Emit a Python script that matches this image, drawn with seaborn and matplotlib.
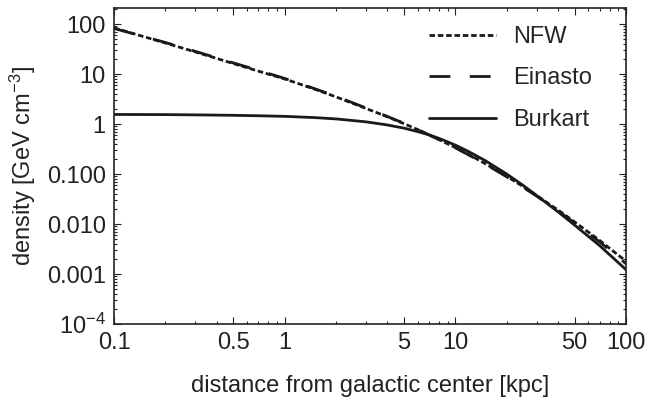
import numpy as np
import pandas as pd
import matplotlib
matplotlib.use("Agg")
import matplotlib.pyplot as plt
import matplotlib.ticker as mticker
import seaborn as sns

# distance from galactic center [kpc]
radius = [0.1, 0.2, 0.3, 0.5, 0.7, 1, 1.5, 2, 3, 4, 5, 6, 7, 8, 10, 12, 15,
          20, 25, 30, 40, 50, 70, 100]
nfw = [84, 42, 27.8, 16.3, 11.5, 8.0, 5.0, 3.5, 2.05, 1.40, 1.02, 0.78, 0.61,
       0.49, 0.339, 0.245, 0.161, 0.090, 0.056, 0.037, 0.019, 0.011, 0.0047,
       0.0018]
einasto = [82, 43, 28.5, 16.8, 11.9, 8.2, 5.1, 3.6, 2.1, 1.42, 1.04, 0.78,
           0.61, 0.49, 0.335, 0.24, 0.158, 0.088, 0.054, 0.036, 0.0182,
           0.0105, 0.0044, 0.0016]
burkart = [1.56, 1.55, 1.53, 1.50, 1.47, 1.43, 1.35, 1.27, 1.11, 0.96, 0.83,
           0.71, 0.61, 0.52, 0.38, 0.28, 0.185, 0.10, 0.059, 0.037, 0.0175,
           0.0095, 0.0037, 0.00122]

ytick_vals = [1e-4, 1e-3, 1e-2, 1e-1, 1, 10, 100]
ytick_labels = ["$10^{-4}$", "0.001", "0.010", "0.100", "1", "10", "100"]
xtick_vals = [0.1, 0.5, 1, 5, 10, 50, 100]
xtick_labels = ["0.1", "0.5", "1", "5", "10", "50", "100"]

sns.set_style("ticks")
plt.rcParams["font.family"] = ["Liberation Sans", "DejaVu Sans"]
plt.rcParams["mathtext.fontset"] = "custom"
plt.rcParams["mathtext.rm"] = "Liberation Sans"
plt.rcParams["mathtext.it"] = "Liberation Sans:italic"
fs = 17

fig = plt.figure(figsize=(6.49, 4.03), dpi=100)
ax = fig.add_axes([0.1757, 0.196, 0.789, 0.784])

df = pd.DataFrame({"r": radius, "NFW": nfw, "Einasto": einasto, "Burkart": burkart})
styles = {"NFW": (0, (2.0, 1.0)), "Einasto": (0, (7.5, 7.0)), "Burkart": "-"}
for name in ["NFW", "Einasto", "Burkart"]:
    sns.lineplot(data=df, x="r", y=name, ax=ax, color="#1a1a1a", lw=2.0,
                 linestyle=styles[name], label=name)

ax.set_xscale("log")
ax.set_yscale("log")
ax.set_xlim(0.1, 100)
ax.set_ylim(1e-4, 210)

ax.yaxis.set_major_locator(mticker.FixedLocator(ytick_vals))
ax.yaxis.set_major_formatter(mticker.FixedFormatter(ytick_labels))
ax.xaxis.set_major_locator(mticker.FixedLocator(xtick_vals))
ax.xaxis.set_major_formatter(mticker.FixedFormatter(xtick_labels))
ax.yaxis.set_minor_locator(mticker.LogLocator(base=10, subs=np.arange(2, 10), numticks=20))
ax.xaxis.set_minor_locator(mticker.LogLocator(base=10, subs=np.arange(2, 10), numticks=20))
ax.yaxis.set_minor_formatter(mticker.NullFormatter())
ax.xaxis.set_minor_formatter(mticker.NullFormatter())

ax.tick_params(which="both", direction="in", top=True, right=True,
               labelsize=fs, colors="#222222", width=0.8)
ax.tick_params(which="major", length=5, pad=6)
ax.tick_params(which="minor", length=2.5)
for sp in ax.spines.values():
    sp.set_linewidth(1.2)
    sp.set_color("#222222")

ax.set_xlabel("distance from galactic center [kpc]", fontsize=fs, color="#222222", labelpad=15)
ax.set_ylabel("density [GeV cm$^{-3}$]", fontsize=fs, color="#222222", labelpad=6)

ax.legend(loc="upper left", bbox_to_anchor=(0.615, 0.943), frameon=False,
          fontsize=fs, handlelength=2.85, handletextpad=0.7, labelspacing=0.82,
          borderpad=0, borderaxespad=0)

fig.savefig("out.png", dpi=100)
